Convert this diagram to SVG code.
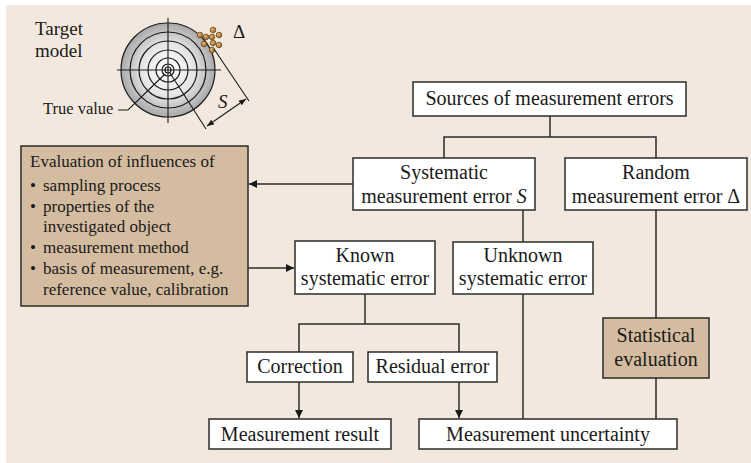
<svg xmlns="http://www.w3.org/2000/svg" width="751" height="463" viewBox="0 0 751 463">
  <style>
    .box { fill: #ffffff; stroke: #2b2b2b; stroke-width: 1.5; }
    .tan { fill: #d4bca0; stroke: #2b2b2b; stroke-width: 1.5; }
    .t { font-family: "Liberation Serif", "Times New Roman", serif; font-size: 20px; fill: #1a1a1a; text-anchor: middle; }
    .s { font-family: "Liberation Serif", "Times New Roman", serif; font-size: 17px; fill: #1a1a1a; }
    .lbl { font-family: "Liberation Serif", "Times New Roman", serif; font-size: 19px; fill: #1a1a1a; }
    .line { fill: none; stroke: #2b2b2b; stroke-width: 1.5; }
    .thin { fill: none; stroke: #1a1a1a; stroke-width: 1.1; }
    .ring { fill: none; stroke: #1a1a1a; stroke-width: 1.2; }
    .dot { fill: url(#dotFill); stroke: #6b4a1e; stroke-width: 0.8; }
  </style>
  <defs>
    <marker id="arrow" viewBox="0 0 10 10" refX="10" refY="5" markerWidth="8" markerHeight="8" markerUnits="userSpaceOnUse" orient="auto">
      <path d="M0,0 L10,5 L0,10 Z" fill="#1a1a1a"/>
    </marker>
    <marker id="tip" viewBox="0 0 10 10" refX="10" refY="5" markerWidth="7" markerHeight="7" markerUnits="userSpaceOnUse" orient="auto-start-reverse">
      <path d="M0,1 L10,5 L0,9 Z" fill="#1a1a1a"/>
    </marker>
    <radialGradient id="targetFill" cx="0.5" cy="0.5" r="0.5">
      <stop offset="0" stop-color="#ffffff"/>
      <stop offset="0.55" stop-color="#e6e6e6"/>
      <stop offset="1" stop-color="#a9a9a9"/>
    </radialGradient>
    <radialGradient id="dotFill" cx="0.35" cy="0.35" r="0.7">
      <stop offset="0" stop-color="#e2b878"/>
      <stop offset="1" stop-color="#9a6428"/>
    </radialGradient>
  </defs>

  <!-- page background -->
  <rect x="6" y="5" width="745" height="458" fill="#f2e8de"/>

  <!-- target model sketch -->
  <g id="target-model">
    <text class="lbl" x="35" y="35">Target</text>
    <text class="lbl" x="35" y="57">model</text>
    <circle cx="168" cy="70" r="47" fill="url(#targetFill)" stroke="#1a1a1a" stroke-width="1.2"/>
    <circle class="ring" cx="168" cy="70" r="38"/>
    <circle class="ring" cx="168" cy="70" r="29"/>
    <circle class="ring" cx="168" cy="70" r="20"/>
    <circle class="ring" cx="168" cy="70" r="12"/>
    <circle class="ring" cx="168" cy="70" r="6"/>
    <circle class="ring" cx="168" cy="70" r="3"/>
    <line class="thin" x1="168" y1="18" x2="168" y2="123"/>
    <line class="thin" x1="117" y1="70" x2="221" y2="70"/>
    <!-- scatter of hits -->
    <circle class="dot" cx="200" cy="35" r="2.8"/>
    <circle class="dot" cx="206" cy="37" r="2.8"/>
    <circle class="dot" cx="213" cy="30" r="2.8"/>
    <circle class="dot" cx="212" cy="37" r="2.8"/>
    <circle class="dot" cx="219" cy="35" r="2.8"/>
    <circle class="dot" cx="204" cy="44" r="2.8"/>
    <circle class="dot" cx="213" cy="43" r="2.8"/>
    <circle class="dot" cx="219" cy="45" r="2.8"/>
    <circle class="dot" cx="212" cy="50" r="2.8"/>
    <text class="lbl" x="233" y="38">Δ</text>
    <!-- offset S between true value and mean of hits -->
    <line class="thin" x1="214" y1="49" x2="249" y2="101"/>
    <line class="thin" x1="170" y1="73" x2="206" y2="129"/>
    <line class="thin" x1="207" y1="126" x2="246" y2="99" marker-start="url(#tip)" marker-end="url(#tip)"/>
    <text class="lbl" x="218" y="108" font-style="italic">S</text>
    <!-- true value pointer -->
    <text class="lbl" x="43" y="114" style="font-size:16.5px">True value</text>
    <polyline class="thin" points="118,110 128,110 165,74"/>
  </g>

  <!-- connectors -->
  <g id="connectors">
    <polyline class="line" points="550,116 550,137"/>
    <polyline class="line" points="444,158 444,137 656,137 656,158"/>
    <line class="line" x1="353" y1="184" x2="249" y2="184" marker-end="url(#arrow)"/>
    <line class="line" x1="248" y1="268" x2="294" y2="268" marker-end="url(#arrow)"/>
    <line class="line" x1="523" y1="210" x2="523" y2="242"/>
    <polyline class="line" points="365,294 365,324"/>
    <polyline class="line" points="299,352 299,324 459,324 459,352"/>
    <line class="line" x1="299" y1="382" x2="299" y2="418" marker-end="url(#arrow)"/>
    <line class="line" x1="459" y1="382" x2="459" y2="418" marker-end="url(#arrow)"/>
    <line class="line" x1="523" y1="294" x2="523" y2="419"/>
    <line class="line" x1="656" y1="210" x2="656" y2="318"/>
    <line class="line" x1="656" y1="378" x2="656" y2="419"/>
  </g>

  <g id="sources">
    <rect class="box" x="413" y="82" width="273" height="34"/>
    <text class="t" x="549.5" y="105">Sources of measurement errors</text>
  </g>

  <g id="systematic">
    <rect class="box" x="353" y="158" width="182" height="52"/>
    <text class="t" x="444" y="179">Systematic</text>
    <text class="t" x="444" y="203">measurement error <tspan font-style="italic">S</tspan></text>
  </g>

  <g id="random">
    <rect class="box" x="565" y="158" width="182" height="52"/>
    <text class="t" x="656" y="179">Random</text>
    <text class="t" x="656" y="203">measurement error Δ</text>
  </g>

  <g id="evaluation">
    <rect class="tan" x="21" y="146" width="227" height="160"/>
    <text class="s" x="30" y="167">Evaluation of influences of</text>
    <text class="s" x="30" y="191">•</text>
    <text class="s" x="43" y="191">sampling process</text>
    <text class="s" x="30" y="212">•</text>
    <text class="s" x="43" y="212">properties of the</text>
    <text class="s" x="43" y="232">investigated object</text>
    <text class="s" x="30" y="253">•</text>
    <text class="s" x="43" y="253">measurement method</text>
    <text class="s" x="30" y="274">•</text>
    <text class="s" x="43" y="274">basis of measurement, e.g.</text>
    <text class="s" x="43" y="295">reference value, calibration</text>
  </g>

  <g id="known">
    <rect class="box" x="295" y="241" width="140" height="53"/>
    <text class="t" x="365" y="262">Known</text>
    <text class="t" x="365" y="285">systematic error</text>
  </g>

  <g id="unknown">
    <rect class="box" x="453" y="242" width="140" height="52"/>
    <text class="t" x="523" y="262">Unknown</text>
    <text class="t" x="523" y="285">systematic error</text>
  </g>

  <g id="correction">
    <rect class="box" x="247" y="352" width="106" height="30"/>
    <text class="t" x="300" y="373">Correction</text>
  </g>

  <g id="residual">
    <rect class="box" x="368" y="352" width="129" height="30"/>
    <text class="t" x="432.5" y="373">Residual error</text>
  </g>

  <g id="statistical">
    <rect class="tan" x="603" y="318" width="106" height="60"/>
    <text class="t" x="656" y="342">Statistical</text>
    <text class="t" x="656" y="366">evaluation</text>
  </g>

  <g id="result">
    <rect class="box" x="209" y="419" width="182" height="30"/>
    <text class="t" x="300" y="441">Measurement result</text>
  </g>

  <g id="uncertainty">
    <rect class="box" x="419" y="419" width="258" height="30"/>
    <text class="t" x="548" y="441">Measurement uncertainty</text>
  </g>
</svg>
